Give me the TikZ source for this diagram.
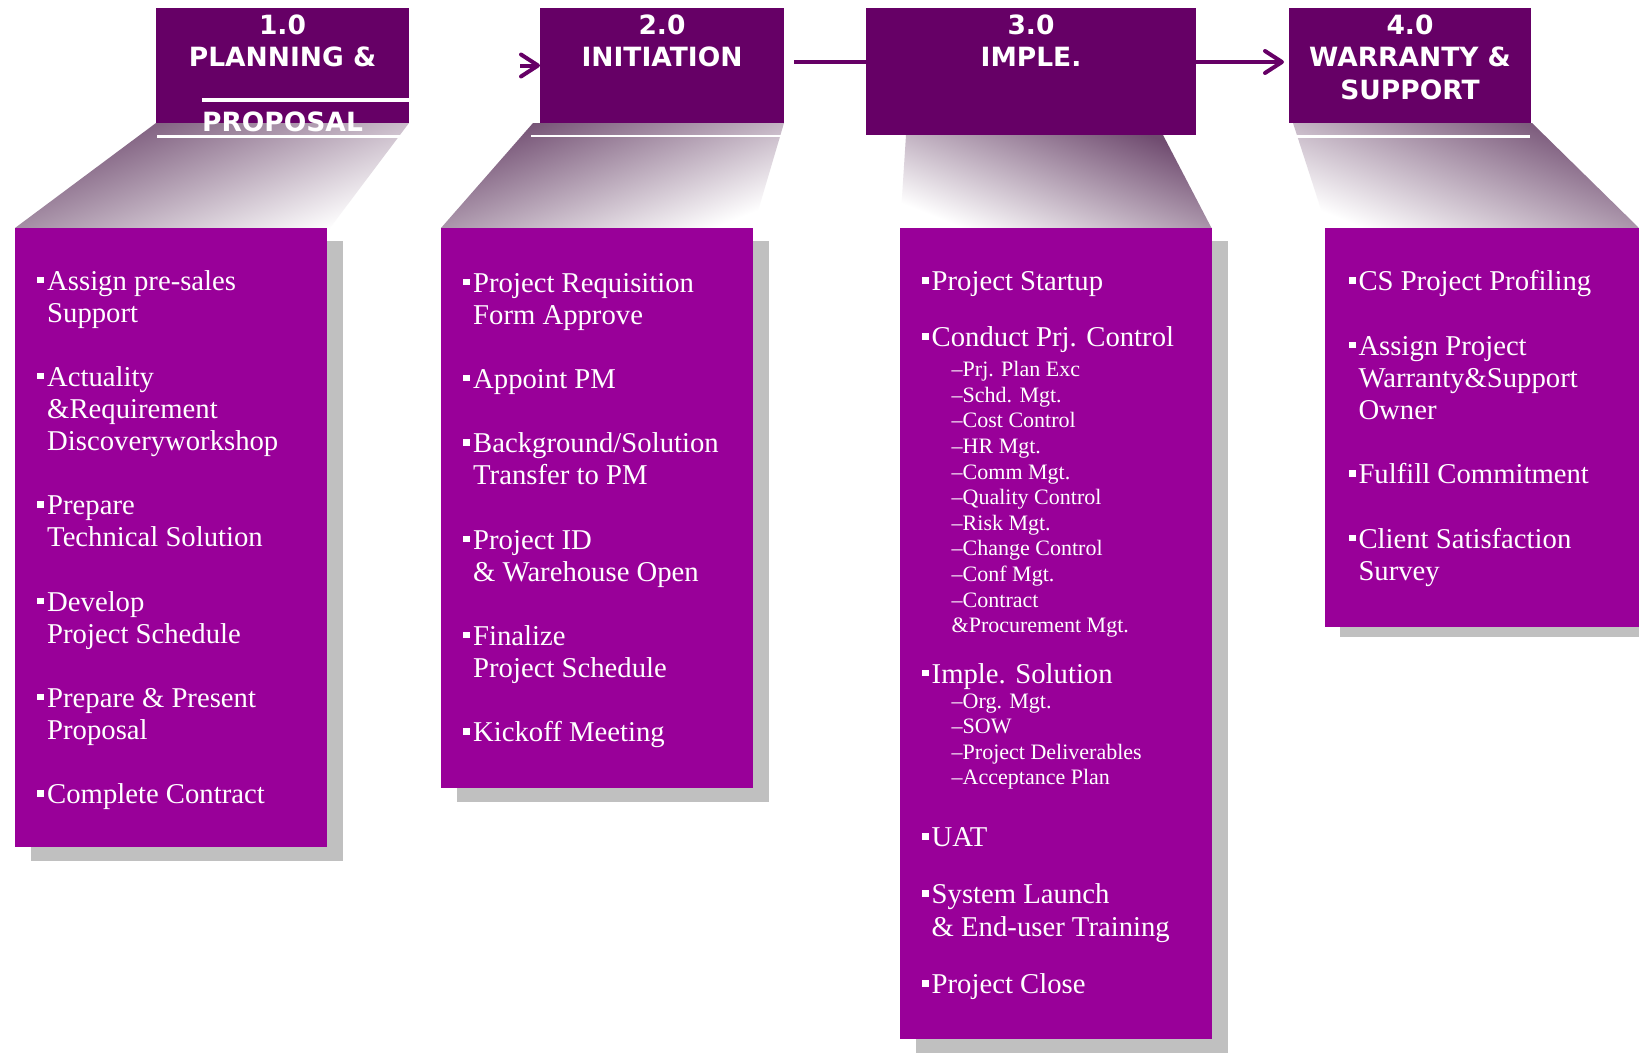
\documentclass[tikz,border=0pt]{standalone}
\usepackage{fontspec}
\newfontfamily\bodyfont{Liberation Serif}
\newfontfamily\headfont{DejaVu Sans}
\usetikzlibrary{arrows.meta,calc}
\definecolor{hdr}{RGB}{102,0,102}
\definecolor{boxc}{RGB}{153,0,153}
\definecolor{shd}{RGB}{192,192,192}
\definecolor{trapdark}{RGB}{112,76,112}
\definecolor{traplight}{RGB}{255,255,255}
\tikzset{
  hdrbox/.style={fill=hdr, draw=none, inner sep=0pt, outer sep=0pt},
  hdrtxt/.style={text=white, font=\headfont\bfseries\fontsize{26.5}{30}\selectfont, anchor=base, inner sep=0pt},
  panel/.style={fill=boxc, draw=none, inner sep=0pt, outer sep=0pt, anchor=north west},
  shadowbox/.style={fill=shd, draw=none},
  itm/.style={text=white, font=\bodyfont\fontsize{28.7}{32}\selectfont, anchor=base west, inner sep=0pt},
  blt/.style={itm, execute at begin node={\llap{\rule[0.235em]{0.235em}{0.235em}\hspace{3pt}}}},
  subitm/.style={itm, font=\bodyfont\fontsize{22}{25}\selectfont},
  link/.style={draw=hdr, line width=4pt},
  arr/.style={link, -{Straight Barb[round,length=17pt,width=22pt]}},
  whiteline/.style={draw=white, line width=2.5pt},
  trapL/.style={top color=trapdark, bottom color=traplight, shading angle=22},
  trapR/.style={top color=trapdark, bottom color=traplight, shading angle=-22},
}
\begin{document}
\begin{tikzpicture}[x=1pt,y=-1pt]
\useasboundingbox (0,0) rectangle (1639,1055);
\fill[white] (0,0) rectangle (1639,1055);
\coordinate (ay) at (0,62);

% header boxes
\node[hdrbox, minimum width=253pt, minimum height=115pt] (h1) at (282.5,65.5) {};
\node[hdrbox, minimum width=244pt, minimum height=115pt] (h2) at (662,65.5) {};
\node[hdrbox, minimum width=330pt, minimum height=127pt] (h3) at (1031,71.5) {};
\node[hdrbox, minimum width=242pt, minimum height=115pt] (h4) at (1410,65.5) {};

% panels (positions)
\node[panel, minimum width=312pt, minimum height=619pt] (p1) at (15,228) {};
\node[panel, minimum width=312pt, minimum height=560pt] (p2) at (441,228) {};
\node[panel, minimum width=311.5pt, minimum height=811pt] (p3) at (900,228) {};
\node[panel, minimum width=314pt, minimum height=399pt] (p4) at (1325,228) {};

% gradient trapezoids
\shade[trapL] (h1.south west) -- (h1.south east) -- ($(p1.north east)+(3,0)$) -- (p1.north west) -- cycle;
\shade[trapL] ($(h2.south west)+(-7,0)$) -- (h2.south east) -- (p2.north east) -- (p2.north west) -- cycle;
\shade[trapR] ($(h3.south west)+(40,0)$) -- ($(h3.south east)+(-33,0)$) -- (p3.north east) -- (p3.north west) -- cycle;
\shade[trapR] ($(h4.south west)+(4,0)$) -- ($(h4.south east)+(1,0)$) -- (p4.north east) -- ($(p4.north west)+(2,0)$) -- cycle;

% white reflection lines
\draw[whiteline] ($(h1.south west)+(1,13.5)$) -- ($(h1.south east)+(-6,13.5)$);
\draw[whiteline] ($(h2.south west)+(-9,13)$) -- ($(h2.south east)+(-2,13)$);
\draw[whiteline] ($(h4.south west)+(7,13.5)$) -- ($(h4.south east)+(-1,13.5)$);
\draw[draw=white, line width=3.5pt] ($(h1.south west)+(46,-23)$) -- ($(h1.south east)+(0,-23)$);

% shadows and panels
\fill[shadowbox] ($(p1.north west)+(16,13)$) rectangle ($(p1.south east)+(16,14)$);
\fill[shadowbox] ($(p2.north west)+(16,13)$) rectangle ($(p2.south east)+(16,14)$);
\fill[shadowbox] ($(p3.north west)+(16,13)$) rectangle ($(p3.south east)+(16,14)$);
\fill[shadowbox] ($(p4.north west)+(15,10)$) rectangle ($(p4.south east)+(15,10)$);
\fill[boxc] (p1.north west) rectangle (p1.south east);
\fill[boxc] (p2.north west) rectangle (p2.south east);
\fill[boxc] (p3.north west) rectangle (p3.south east);
\fill[boxc] (p4.north west) rectangle (p4.south east);

% connectors
\draw[arr] ($(h2.west)+(-20,0)$) -- (h2.west);
\draw[link] ($(h2.east |- ay)+(10,0)$) -- (h3.west |- ay);
\draw[arr, shorten >=5pt] (h3.east |- ay) -- (h4.west |- ay);

% header texts
\node[hdrtxt] (t1a) at (282.5,34.5) {1.0};
\node[hdrtxt] (t1b) at (282.5,66.5) {PLANNING \&};
\node[hdrtxt] (t1c) at (282.5,131.5) {PROPOSAL};
\node[hdrtxt] (t2a) at (662,34.5) {2.0};
\node[hdrtxt] (t2b) at (662,66.5) {INITIATION};
\node[hdrtxt] (t3a) at (1031,34.5) {3.0};
\node[hdrtxt] (t3b) at (1031,66.5) {IMPLE.};
\node[hdrtxt] (t4a) at (1410,34.5) {4.0};
\node[hdrtxt] (t4b) at (1410,66.5) {WARRANTY \&};
\node[hdrtxt] (t4c) at (1410,99) {SUPPORT};

% panel 1
\node[blt] (b1a) at (47,290) {Assign pre-sales};
\node[itm] (b1b) at (47,322) {Support};
\node[blt] (b1c) at (47,386) {Actuality};
\node[itm] (b1d) at (47,418.5) {\&Requirement};
\node[itm] (b1e) at (47,450.5) {Discoveryworkshop};
\node[blt] (b1f) at (47,514.5) {Prepare};
\node[itm] (b1g) at (47,546.5) {Technical Solution};
\node[blt] (b1h) at (47,611) {Develop};
\node[itm] (b1i) at (47,643) {Project Schedule};
\node[blt] (b1j) at (47,707) {Prepare \& Present};
\node[itm] (b1k) at (47,739) {Proposal};
\node[blt] (b1l) at (47,803.5) {Complete Contract};

% panel 2
\node[blt] (b2a) at (473,292) {Project Requisition};
\node[itm] (b2b) at (473,324) {Form Approve};
\node[blt] (b2c) at (473,388) {Appoint PM};
\node[blt] (b2d) at (473,452.5) {Background/Solution};
\node[itm] (b2e) at (473,484.5) {Transfer to PM};
\node[blt] (b2f) at (473,549) {Project ID};
\node[itm] (b2g) at (473,581) {\& Warehouse Open};
\node[blt] (b2h) at (473,645) {Finalize};
\node[itm] (b2i) at (473,677) {Project Schedule};
\node[blt] (b2j) at (473,741.5) {Kickoff Meeting};

% panel 3
\node[blt] (b3a) at (931.5,290.5) {Project Startup};
\node[blt] (b3b) at (931.5,346.7) {Conduct Prj. Control};
\node[subitm] (b3c) at (951.5,376.7) {–Prj. Plan Exc};
\node[subitm] (b3d) at (951.5,402.3) {–Schd. Mgt.};
\node[subitm] (b3e) at (951.5,427.9) {–Cost Control};
\node[subitm] (b3f) at (951.5,453.5) {–HR Mgt.};
\node[subitm] (b3g) at (951.5,479.1) {–Comm Mgt.};
\node[subitm] (b3h) at (951.5,504.7) {–Quality Control};
\node[subitm] (b3i) at (951.5,530.3) {–Risk Mgt.};
\node[subitm] (b3j) at (951.5,555.9) {–Change Control};
\node[subitm] (b3k) at (951.5,581.5) {–Conf Mgt.};
\node[subitm] (b3l) at (951.5,607.1) {–Contract};
\node[subitm] (b3m) at (951.5,632.7) {\&Procurement Mgt.};
\node[blt] (b3n) at (931.5,683) {Imple. Solution};
\node[subitm] (b3o) at (951.5,708) {–Org. Mgt.};
\node[subitm] (b3p) at (951.5,733.6) {–SOW};
\node[subitm] (b3q) at (951.5,759.2) {–Project Deliverables};
\node[subitm] (b3r) at (951.5,784.8) {–Acceptance Plan};
\node[blt] (b3s) at (931.5,846.3) {UAT};
\node[blt] (b3t) at (931.5,903.8) {System Launch};
\node[itm] (b3u) at (931.5,936.2) {\& End-user Training};
\node[blt] (b3v) at (931.5,993.7) {Project Close};

% panel 4
\node[blt] (b4a) at (1358.3,290.5) {CS Project Profiling};
\node[blt] (b4b) at (1358.3,355) {Assign Project};
\node[itm] (b4c) at (1358.3,387) {Warranty\&Support};
\node[itm] (b4d) at (1358.3,419) {Owner};
\node[blt] (b4e) at (1358.3,483.5) {Fulfill Commitment};
\node[blt] (b4f) at (1358.3,548) {Client Satisfaction};
\node[itm] (b4g) at (1358.3,580) {Survey};
\end{tikzpicture}
\end{document}
